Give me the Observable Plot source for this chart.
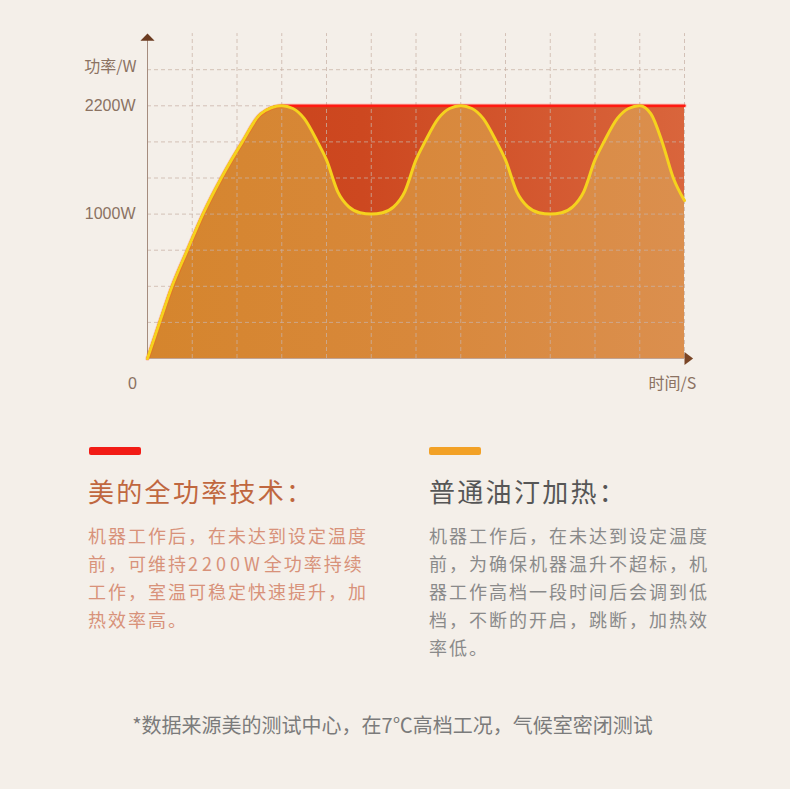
<!DOCTYPE html>
<html>
<head>
<meta charset="utf-8">
<script src="https://cdn.jsdelivr.net/npm/d3@7"></script>
<script src="https://cdn.jsdelivr.net/npm/@observablehq/plot@0.6"></script>
<style>
html, body { margin: 0; padding: 0; background: #f4efe9; }
#wrap { position: relative; width: 790px; height: 789px; overflow: hidden; background: #f4efe9;
  font-family: "Noto Sans CJK SC", "Noto Sans", sans-serif; }
#chart { position: absolute; left: 0; top: 0; }
.bar { position: absolute; top: 447px; width: 52px; height: 8px; border-radius: 2px; }
.title { position: absolute; top: 476px; font-size: 26px; letter-spacing: 2.3px; line-height: 30px; white-space: nowrap; }
.body { position: absolute; top: 521px; width: 300px; font-size: 18px; letter-spacing: 2px; line-height: 28px; white-space: nowrap; }
.body .num { letter-spacing: 4px; }
#foot { position: absolute; left: 0; width: 785px; top: 711px; text-align: center; font-size: 20px; line-height: 28px; color: #7b7b7b; white-space: nowrap; }
</style>
</head>
<body>
<div id="wrap">
  <div id="chart"></div>
  <div class="bar" style="left:89px;background:#f21c16"></div>
  <div class="bar" style="left:429px;background:#f2a126"></div>
  <div class="title" id="t1" style="left:88px;color:#c0673f"></div>
  <div class="title" id="t2" style="left:429px;color:#565656"></div>
  <div class="body" id="b1" style="left:88px;color:#d8927a"></div>
  <div class="body" id="b2" style="left:429px;color:#8a8a8a"></div>
  <div id="foot"></div>
</div>
<script>
// ---- data ----
const time = [0, 0.27, 0.55, 0.89, 1.24, 1.65, 2.12, 2.53, 3,
  3.25, 3.5, 3.8, 4, 4.25, 4.5, 4.75, 5,
  5.25, 5.5, 5.75, 6, 6.2, 6.5, 6.75, 7,
  7.25, 7.5, 7.8, 8, 8.25, 8.5, 8.75, 9,
  9.25, 9.5, 9.75, 10, 10.2, 10.5, 10.75, 11,
  11.25, 11.5, 11.75, 12];
const heaterPower = [0, 250, 500, 750, 1000, 1400, 1800, 2110, 2200,
  2170, 2060, 1800, 1600, 1250, 1080, 1015, 1000,
  1015, 1080, 1250, 1600, 1800, 2060, 2170, 2200,
  2170, 2060, 1800, 1600, 1250, 1080, 1015, 1000,
  1015, 1080, 1250, 1600, 1800, 2060, 2170, 2200,
  2110, 1800, 1400, 1150];
const fullTime = [0, 0.27, 0.55, 0.89, 1.24, 1.65, 2.12, 2.53, 3, 12];
const fullPower = [0, 250, 500, 750, 1000, 1400, 1800, 2110, 2200, 2200];

const gridPower = [250, 500, 750, 1000, 1400, 1800, 2200, 2600];
const gridTime = [1, 2, 3, 4, 5, 6, 7, 8, 9, 10, 11, 12];
const yTickValues = [1000, 2200];
const yTickLabels = ["1000W", "2200W"];
const yAxisTitle = "功率/W";
const xAxisTitle = "时间/S";
const originLabel = "0";
const axisTop = 3000;
const timeMax = 12;

const title1 = "美的全功率技术：";
const title2 = "普通油汀加热：";
const body1 = ["机器工作后，在未达到设定温度", "前，可维持[2200W]全功率持续", "工作，室温可稳定快速提升，加", "热效率高。"];
const body2 = ["机器工作后，在未达到设定温度", "前，为确保机器温升不超标，机", "器工作高档一段时间后会调到低", "档，不断的开启，跳断，加热效", "率低。"];
const footnote = "*数据来源美的测试中心，在7℃高档工况，气候室密闭测试";

// ---- build tables ----
const heater = time.map((t, i) => ({t, p: heaterPower[i]}));
const full = fullTime.map((t, i) => ({t, p: fullPower[i]}));
const ticks = yTickValues.map((v, i) => ({v, label: yTickLabels[i]}));

const upArrow = {draw(ctx, size) { const k = Math.sqrt(size) / 14;
  ctx.moveTo(0, 0); ctx.lineTo(7 * k, 7 * k); ctx.lineTo(-7 * k, 7 * k); ctx.closePath(); }};
const rightArrow = {draw(ctx, size) { const k = Math.sqrt(size) / 14;
  ctx.moveTo(0, -6.5 * k); ctx.lineTo(8.5 * k, 0); ctx.lineTo(0, 6.5 * k); ctx.closePath(); }};

const font = "Liberation Sans, Arial, sans-serif";
const labelColor = "#8b7262";
const gridColor = "#c8b2a6";

const plot = Plot.plot({
  width: 790,
  height: 400,
  x: {type: "linear", domain: [0, timeMax], range: [147, 684], axis: null},
  y: {type: "linear", domain: [0, 1000, 2200, 3000], range: [358, 213.6, 105.3, 33.1], axis: null},
  style: {background: "transparent", fontFamily: font},
  marks: [
    Plot.areaY(full, {x: "t", y: "p", fill: "url(#redGrad)", curve: "monotone-x"}),
    Plot.areaY(heater, {x: "t", y: "p", fill: "url(#orangeGrad)", curve: "monotone-x"}),
    Plot.ruleY(gridPower, {x1: 0, x2: timeMax, stroke: gridColor, strokeOpacity: 0.75, strokeDasharray: "4,3"}),
    Plot.ruleX(gridTime, {y1: 0, y2: axisTop, stroke: gridColor, strokeOpacity: 0.75, strokeDasharray: "4,3"}),
    Plot.ruleY([0], {x1: 0, x2: timeMax, stroke: "#c0a292", strokeWidth: 1}),
    Plot.ruleX([0], {y1: 0, y2: axisTop - 60, stroke: "#a58c7e", strokeWidth: 1}),
    Plot.line(full, {x: "t", y: "p", stroke: "#ff2a14", strokeWidth: 4.5, strokeOpacity: 0.2, curve: "monotone-x"}),
    Plot.line(full, {x: "t", y: "p", stroke: "#ff1a12", strokeWidth: 2.5, curve: "monotone-x"}),
    Plot.line(heater, {x: "t", y: "p", stroke: "#f5d21e", strokeWidth: 3, curve: "monotone-x"}),
    Plot.dot([axisTop], {x: 0, y: d => d, symbol: upArrow, r: 8, fill: "#6b3b20", stroke: null}),
    Plot.dot([0], {x: timeMax, y: d => d, symbol: rightArrow, r: 8, fill: "#7a4526", stroke: null}),
    Plot.text(ticks, {x: 0, y: "v", text: "label", textAnchor: "end", dx: -12, fontSize: 16, fill: labelColor, fontFamily: font}),
    Plot.text([yAxisTitle], {x: 0, y: 2600, text: d => d, textAnchor: "end", dx: -11, dy: -3, fontSize: 16, fill: labelColor, fontFamily: "Noto Sans CJK SC, sans-serif"}),
    Plot.text([originLabel], {x: 0, y: 0, text: d => d, dx: -15, dy: 25, fontSize: 16, fill: labelColor, fontFamily: font}),
    Plot.text([xAxisTitle], {x: timeMax, y: 0, text: d => d, dx: -12, dy: 25, fontSize: 16, fill: labelColor, fontFamily: "Noto Sans CJK SC, sans-serif"})
  ]
});

// gradients
const defs = d3.select(plot).insert("defs", ":first-child");
const rg = defs.append("linearGradient").attr("id", "redGrad").attr("x1", 0).attr("x2", 1).attr("y1", 0).attr("y2", 0);
rg.append("stop").attr("offset", 0).attr("stop-color", "#c9401a");
rg.append("stop").attr("offset", 0.4).attr("stop-color", "#cd4820");
rg.append("stop").attr("offset", 1).attr("stop-color", "#d9653c");
const og = defs.append("linearGradient").attr("id", "orangeGrad").attr("x1", 0).attr("x2", 1).attr("y1", 0).attr("y2", 0);
og.append("stop").attr("offset", 0).attr("stop-color", "#d5852d");
og.append("stop").attr("offset", 0.5).attr("stop-color", "#d8883b");
og.append("stop").attr("offset", 1).attr("stop-color", "#db8f4e");

document.getElementById("chart").appendChild(plot);

// texts
document.getElementById("t1").textContent = title1;
document.getElementById("t2").textContent = title2;
function fill(id, lines) {
  const el = document.getElementById(id);
  lines.forEach(l => {
    const d = document.createElement("div");
    const m = l.match(/^(.*)\[(.*)\](.*)$/);
    if (m) {
      d.appendChild(document.createTextNode(m[1]));
      const s = document.createElement("span");
      s.className = "num"; s.textContent = m[2];
      d.appendChild(s);
      d.appendChild(document.createTextNode(m[3]));
    } else d.textContent = l;
    el.appendChild(d);
  });
}
fill("b1", body1);
fill("b2", body2);
document.getElementById("foot").textContent = footnote;
</script>
</body>
</html>
